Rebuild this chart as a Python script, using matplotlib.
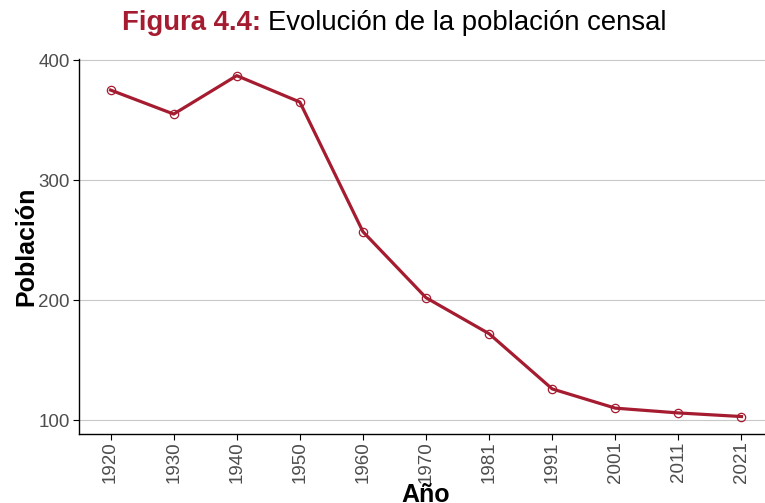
import matplotlib
matplotlib.use("Agg")
import matplotlib.pyplot as plt
import numpy as np

# %% Data
years = ["1920", "1930", "1940", "1950", "1960", "1970",
         "1981", "1991", "2001", "2011", "2021"]
poblacion = [375, 355, 387, 365, 257, 202, 172, 126, 110, 106, 103]

RED = "#A51C30"

plt.rcParams["font.family"] = ["Liberation Sans", "DejaVu Sans"]

fig = plt.figure(figsize=(7.65, 5.03), dpi=100)
ax = fig.add_axes([0.1033, 0.138, 0.9072, 0.7455])

x = np.arange(len(years))
ax.plot(x, poblacion, color=RED, lw=2.3, zorder=3)
ax.plot(x, poblacion, ls="none", marker="o", ms=6, mfc="none",
        mec=RED, mew=0.9, zorder=4)

ax.set_xlim(-0.5, len(years) - 0.5)
ax.set_ylim(88.8, 401.2)
ax.set_xticks(x)
ax.set_xticklabels(years, rotation=90)
ax.set_yticks([100, 200, 300, 400])

ax.tick_params(axis="both", labelsize=13.5, labelcolor="#4D4D4D",
               length=4, width=0.8, color="black", direction="out", pad=2.5)
ax.tick_params(axis="x", pad=1.5)
ax.grid(axis="y", color="#C8C8C8", lw=0.8)
ax.set_axisbelow(True)
for side in ["top", "right"]:
    ax.spines[side].set_visible(False)
for side in ["left", "bottom"]:
    ax.spines[side].set_linewidth(1.0)

ax.set_xlabel("Año", fontsize=18, fontweight="bold", labelpad=0)
ax.set_ylabel("Población", fontsize=18, fontweight="bold", labelpad=0)

# Two-colour title
t1 = fig.text(122 / 765, 1 - 30 / 503, "Figura 4.4:", color=RED,
              fontsize=19.8, fontweight="bold", ha="left", va="baseline")
fig.canvas.draw()
bb = t1.get_window_extent()
fig.text((bb.x1 + 7) / fig.bbox.width, 1 - 30 / 503,
         "Evolución de la población censal", color="black",
         fontsize=19.8, ha="left", va="baseline")

fig.savefig("out.png", dpi=100)
